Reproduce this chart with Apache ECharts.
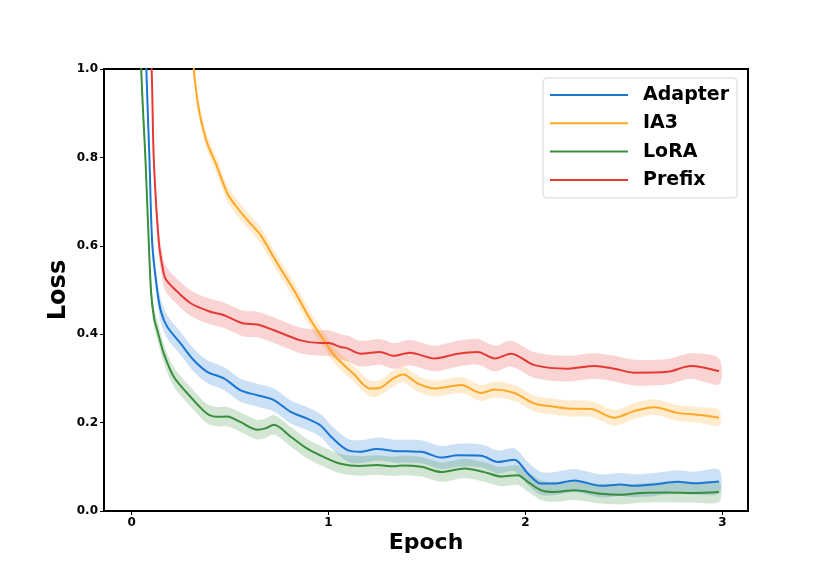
<!DOCTYPE html>
<html lang="en">
<head>
<meta charset="UTF-8">
<title>Loss</title>
<script src="https://cdn.jsdelivr.net/npm/echarts@6/dist/echarts.min.js"></script>
<style>
  html, body { margin: 0; padding: 0; background: #fff; }
  #main { width: 830px; height: 574px; }
</style>
</head>
<body>
<div id="main"></div>
<script>
    // method names + colours
    var names = ['Adapter', 'IA3', 'LoRA', 'Prefix']
    var colors = ['#1976D2', '#FFA726', '#388E3C', '#E53935']

    // mean loss curves (epoch, loss)
    var adapterX = [0, 0.04, 0.075, 0.091, 0.105, 0.13, 0.15, 0.181, 0.249, 0.316, 0.384, 0.469, 0.554, 0.638, 0.723, 0.808, 0.892, 0.958, 1.02, 1.1, 1.16, 1.245, 1.329, 1.4, 1.471, 1.573, 1.657, 1.775, 1.86, 1.944, 2.012, 2.079, 2.147, 2.248, 2.383, 2.485, 2.552, 2.654, 2.772, 2.856, 2.983]
    var adapterY = [3.0, 1.6, 1.0, 0.794, 0.605, 0.5, 0.45, 0.417, 0.379, 0.341, 0.315, 0.3, 0.273, 0.262, 0.251, 0.224, 0.209, 0.194, 0.165, 0.137, 0.134, 0.14, 0.136, 0.135, 0.134, 0.121, 0.126, 0.125, 0.111, 0.116, 0.085, 0.062, 0.062, 0.069, 0.057, 0.06, 0.057, 0.06, 0.066, 0.063, 0.067]

    var ia3X = [0, 0.15, 0.25, 0.316, 0.334, 0.35, 0.384, 0.427, 0.486, 0.53, 0.588, 0.655, 0.74, 0.824, 0.909, 0.977, 1.035, 1.126, 1.211, 1.262, 1.329, 1.38, 1.455, 1.539, 1.674, 1.775, 1.843, 1.944, 2.046, 2.13, 2.215, 2.333, 2.451, 2.552, 2.654, 2.772, 2.89, 2.983]
    var ia3Y = [4.0, 2.2, 1.4, 1.0, 0.93, 0.89, 0.832, 0.787, 0.719, 0.69, 0.658, 0.624, 0.56, 0.5, 0.432, 0.386, 0.349, 0.311, 0.277, 0.279, 0.3, 0.309, 0.288, 0.277, 0.285, 0.267, 0.275, 0.267, 0.243, 0.237, 0.232, 0.231, 0.211, 0.226, 0.235, 0.222, 0.217, 0.211]

    var loraX = [0, 0.03, 0.049, 0.071, 0.088, 0.1, 0.115, 0.13, 0.164, 0.215, 0.3, 0.384, 0.44, 0.486, 0.554, 0.638, 0.68, 0.723, 0.808, 0.892, 0.977, 1.061, 1.16, 1.245, 1.329, 1.37, 1.471, 1.573, 1.691, 1.792, 1.877, 1.961, 2.012, 2.079, 2.147, 2.248, 2.383, 2.485, 2.586, 2.721, 2.85, 2.983]
    var loraY = [2.6, 1.35, 1.0, 0.79, 0.6, 0.49, 0.435, 0.41, 0.356, 0.303, 0.258, 0.22, 0.213, 0.214, 0.201, 0.184, 0.187, 0.195, 0.168, 0.141, 0.122, 0.107, 0.102, 0.104, 0.101, 0.103, 0.1, 0.088, 0.096, 0.088, 0.078, 0.081, 0.066, 0.047, 0.043, 0.047, 0.039, 0.037, 0.041, 0.042, 0.041, 0.043]

    var prefixX = [0, 0.06, 0.102, 0.113, 0.139, 0.16, 0.173, 0.223, 0.3, 0.393, 0.469, 0.57, 0.638, 0.723, 0.858, 0.96, 1.0, 1.061, 1.095, 1.163, 1.262, 1.329, 1.414, 1.539, 1.657, 1.758, 1.843, 1.927, 2.046, 2.215, 2.35, 2.451, 2.552, 2.721, 2.84, 2.983]
    var prefixY = [3.0, 1.5, 1.0, 0.794, 0.605, 0.545, 0.525, 0.5, 0.47, 0.452, 0.443, 0.424, 0.422, 0.409, 0.386, 0.38, 0.38, 0.371, 0.368, 0.356, 0.36, 0.351, 0.358, 0.345, 0.356, 0.36, 0.345, 0.356, 0.33, 0.322, 0.328, 0.322, 0.313, 0.315, 0.328, 0.316]

    // half width of the shaded band (std)
    var stds = [0.026, 0.018, 0.022, 0.029]

    var xTicks = [0, 1, 2, 3]

    var allX = [adapterX, ia3X, loraX, prefixX]
    var allY = [adapterY, ia3Y, loraY, prefixY]

    var font = 'DejaVu Sans'
    var series = []

    // shaded bands: one polygon per method, upper edge then lower edge back
    names.forEach(function(n, k) {
        series.push({
            name: n + '_band',
            type: 'custom',
            clip: true,
            silent: true,
            z: 1,
            data: [[0, 0]],
            renderItem: function(params, api) {
                var xs = allX[k], ys = allY[k], s = stds[k]
                var pts = []
                for (var i = 0; i < xs.length; i++) pts.push(api.coord([xs[i], ys[i] + s]))
                for (var j = xs.length - 1; j >= 0; j--) pts.push(api.coord([xs[j], ys[j] - s]))
                return {
                    type: 'polygon',
                    shape: { points: pts, smooth: 0.3 },
                    style: { fill: colors[k], opacity: 0.22 }
                }
            }
        })
    })

    // mean lines
    names.forEach(function(n, k) {
        var xs = allX[k], ys = allY[k]
        series.push({
            name: n,
            type: 'line',
            data: xs.map(function(x, i) { return [x, ys[i]] }),
            smooth: 0.3,
            symbol: 'none',
            color: colors[k],
            lineStyle: { color: colors[k], width: 2 },
            z: 3
        })
    })

    var mCharts = echarts.init(document.getElementById('main'))
    var option = {
        animation: false,
        backgroundColor: '#fff',
        textStyle: { fontFamily: font },
        grid: {
            left: 104,
            right: 82,
            top: 69,
            bottom: 63,
            show: true,
            borderColor: '#000',
            borderWidth: 2
        },
        legend: {
            data: names,
            orient: 'vertical',
            left: 543,
            top: 78,
            icon: 'rect',
            itemWidth: 78,
            itemHeight: 2,
            itemGap: 8.3,
            padding: [7, 8, 8, 7],
            backgroundColor: '#fff',
            borderColor: '#d6d6d6',
            borderWidth: 1,
            borderRadius: 4,
            textStyle: {
                fontFamily: font,
                fontWeight: 'bold',
                fontSize: 19,
                lineHeight: 20,
                color: '#000',
                padding: [0, 0, 0, 10]
            }
        },
        xAxis: {
            type: 'value',
            min: -0.14,
            max: 3.13,
            name: 'Epoch',
            nameLocation: 'middle',
            nameGap: 21,
            nameMoveOverlap: false,
            nameTextStyle: { fontFamily: font, fontWeight: 'bold', fontSize: 22, color: '#000', verticalAlign: 'top' },
            splitLine: { show: false },
            axisLine: { show: true, onZero: false, lineStyle: { color: '#000', width: 2 } },
            axisTick: { show: true, customValues: xTicks, length: 4, lineStyle: { color: '#000', width: 1 } },
            axisLabel: {
                customValues: xTicks,
                margin: 6,
                fontFamily: font,
                fontWeight: 'bold',
                fontSize: 12,
                color: '#000',
                formatter: function(v) { return String(Math.round(v)) }
            }
        },
        yAxis: {
            type: 'value',
            min: 0,
            max: 1,
            interval: 0.2,
            name: 'Loss',
            nameLocation: 'middle',
            nameGap: 33,
            nameMoveOverlap: false,
            nameTextStyle: { fontFamily: font, fontWeight: 'bold', fontSize: 24, color: '#000' },
            splitLine: { show: false },
            axisLine: { show: true, onZero: false, lineStyle: { color: '#000', width: 2 } },
            axisTick: { show: true, length: 4, lineStyle: { color: '#000', width: 1 } },
            axisLabel: {
                margin: 6,
                fontFamily: font,
                fontWeight: 'bold',
                fontSize: 12,
                color: '#000',
                formatter: function(v) { return v.toFixed(1) }
            }
        },
        series: series
    }
    mCharts.setOption(option)
</script>
</body>
</html>
